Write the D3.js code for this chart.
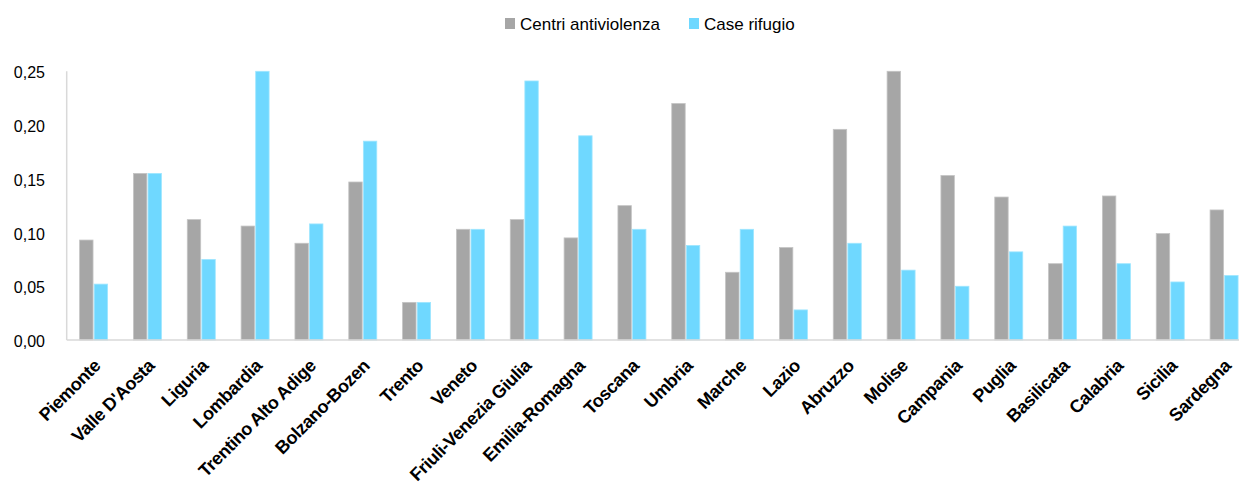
<!DOCTYPE html>
<html>
<head>
<meta charset="utf-8">
<script src="https://cdn.jsdelivr.net/npm/d3@7"></script>
<style>
  body { margin: 0; background: #fff; }
  text { font-family: "Liberation Sans", Arial, sans-serif; }
</style>
</head>
<body>
<script>
  // regions and the two series (rate per 10.000 women)
  var regions = ["Piemonte", "Valle D'Aosta", "Liguria", "Lombardia", "Trentino Alto Adige",
    "Bolzano-Bozen", "Trento", "Veneto", "Friuli-Venezia Giulia", "Emilia-Romagna", "Toscana",
    "Umbria", "Marche", "Lazio", "Abruzzo", "Molise", "Campania", "Puglia", "Basilicata",
    "Calabria", "Sicilia", "Sardegna"];
  var centri = [0.093, 0.155, 0.112, 0.106, 0.090, 0.147, 0.035, 0.103, 0.112, 0.095, 0.125,
    0.220, 0.063, 0.086, 0.196, 0.250, 0.153, 0.133, 0.071, 0.134, 0.099, 0.121];
  var case_rifugio = [0.052, 0.155, 0.075, 0.250, 0.108, 0.185, 0.035, 0.103, 0.241, 0.190, 0.103,
    0.088, 0.103, 0.028, 0.090, 0.065, 0.050, 0.082, 0.106, 0.071, 0.054, 0.060];
  var seriesNames = ["Centri antiviolenza", "Case rifugio"];
  var yTicks = [0, 0.05, 0.10, 0.15, 0.20, 0.25];

  var colors = ["#a6a6a6", "#6fd8ff"];
  var strokes = ["#c4c4c4", "#9fe6ff"];

  var width = 1239, height = 492;
  var plotLeft = 66.7, plotRight = 1251, plotTop = 71.3, plotBottom = 340;

  var svg = d3.select("body").append("svg")
    .attr("width", width)
    .attr("height", height);

  var x0 = d3.scaleBand().domain(regions).range([plotLeft, plotRight]);
  var groupW = 28;
  var x1 = d3.scaleBand().domain([0, 1]).range([0, groupW]).paddingInner(0.08);
  var y = d3.scaleLinear().domain([0, 0.25]).range([plotBottom, plotTop]);

  var locale = d3.formatLocale({ decimal: ",", thousands: ".", grouping: [3], currency: ["", "€"] });
  var fmt = locale.format(".2f");

  // y labels
  svg.append("g").selectAll("text")
    .data(yTicks)
    .enter().append("text")
    .attr("x", 45)
    .attr("y", function(d) { return y(d) + 7; })
    .attr("text-anchor", "end")
    .attr("font-size", 16)
    .attr("fill", "#000")
    .text(function(d) { return fmt(d); });

  // bars
  var rows = regions.map(function(r, i) { return { region: r, vals: [centri[i], case_rifugio[i]] }; });
  var groups = svg.append("g").selectAll("g")
    .data(rows)
    .enter().append("g")
    .attr("transform", function(d) {
      return "translate(" + (x0(d.region) + (x0.bandwidth() - groupW) / 2) + ",0)";
    });

  groups.selectAll("rect")
    .data(function(d) { return d.vals; })
    .enter().append("rect")
    .attr("x", function(d, i) { return x1(i); })
    .attr("y", function(d) { return y(d); })
    .attr("width", x1.bandwidth())
    .attr("height", function(d) { return plotBottom - y(d); })
    .attr("fill", function(d, i) { return colors[i]; })
    .attr("stroke", function(d, i) { return strokes[i]; })
    .attr("stroke-width", 0.8);

  // axis lines
  svg.append("line")
    .attr("x1", plotLeft).attr("x2", width)
    .attr("y1", plotBottom).attr("y2", plotBottom)
    .attr("stroke", "#d9d9d9").attr("stroke-width", 1.5);
  svg.append("line")
    .attr("x1", plotLeft).attr("x2", plotLeft)
    .attr("y1", plotTop).attr("y2", plotBottom)
    .attr("stroke", "#d9d9d9").attr("stroke-width", 1.5);

  // x labels, rotated
  svg.append("g").selectAll("text")
    .data(regions)
    .enter().append("text")
    .attr("transform", function(d) {
      var cx = x0(d) + x0.bandwidth() / 2;
      return "translate(" + (cx + 8) + ",367) rotate(-45)";
    })
    .attr("text-anchor", "end")
    .attr("font-size", 18)
    .attr("font-weight", "bold")
    .attr("letter-spacing", -0.4)
    .attr("fill", "#000")
    .text(function(d) { return d; });

  // legend
  var legendX = [505, 689];
  var legend = svg.append("g").selectAll("g")
    .data(seriesNames)
    .enter().append("g")
    .attr("transform", function(d, i) { return "translate(" + legendX[i] + ",18)"; });
  legend.append("rect")
    .attr("width", 10).attr("height", 11)
    .attr("fill", function(d, i) { return colors[i]; });
  legend.append("text")
    .attr("x", 15).attr("y", 12)
    .attr("font-size", 17)
    .attr("fill", "#000")
    .text(function(d) { return d; });
</script>
</body>
</html>
